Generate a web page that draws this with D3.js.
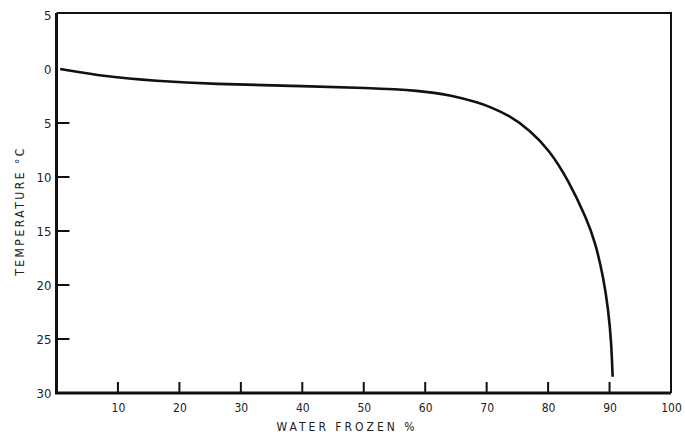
<!DOCTYPE html>
<html><head><meta charset="utf-8">
<script src="https://cdn.jsdelivr.net/npm/d3@7"></script>
<style>body{margin:0;background:#fff}svg{display:block}text{font-family:"DejaVu Sans Condensed","Liberation Sans",sans-serif;fill:#222}</style>
</head><body>
<script>
const waterFrozen = [0.6, 7.9, 16.0, 25.8, 38.0, 51.0, 59.1, 64.0, 68.9, 70.5, 73.7, 77.0, 80.2, 83.3, 86.3, 87.7, 89.0, 89.8, 90.3, 90.5];
const temperature = [0.0, -0.7, -1.1, -1.4, -1.55, -1.76, -2.0, -2.4, -3.15, -3.5, -4.3, -5.65, -7.5, -10.3, -13.9, -16.1, -19.3, -22.3, -25.4, -28.5];
const xTicks = [10, 20, 30, 40, 50, 60, 70, 80, 90, 100];
const yTicks = [5, 0, -5, -10, -15, -20, -25, -30];
const xTitle = "WATER FROZEN %";
const yTitle = "TEMPERATURE °C";

const W = 685, H = 437;
const svg = d3.select("body").append("svg").attr("width", W).attr("height", H);
const x = d3.scaleLinear().domain([0, 100]).range([56.5, 671]);
const y = d3.scaleLinear().domain([5, -30]).range([15, 393]);

// frame
const frameTop = 13;
svg.append("path").attr("d", `M${x(0)},${frameTop} L${x(100)},${frameTop} L${x(100)},${y(-30)}`)
  .attr("fill", "none").attr("stroke", "#111").attr("stroke-width", 2);
svg.append("path").attr("d", `M${x(0)},${frameTop} L${x(0)},${y(-30)} L${x(100)},${y(-30)}`)
  .attr("fill", "none").attr("stroke", "#111").attr("stroke-width", 3);

// x axis
const xAxis = d3.axisBottom(x).tickValues(xTicks).tickSize(0).tickPadding(0).tickFormat(d3.format("d"));
const gx = svg.append("g").attr("transform", `translate(0,${y(-30)})`).call(xAxis);
gx.select(".domain").remove();
gx.selectAll("text").attr("dy", 0).attr("y", 19).style("font-size", "12px").style("fill", "#222");
svg.append("g").selectAll("line").data(xTicks.filter(d => d < 100)).join("line")
  .attr("x1", d => x(d)).attr("x2", d => x(d)).attr("y1", y(-30)).attr("y2", y(-30) - 11)
  .attr("stroke", "#111").attr("stroke-width", 2);

// y axis
const yAxis = d3.axisLeft(y).tickValues(yTicks).tickSize(0).tickPadding(0).tickFormat(d => Math.abs(d));
const gy = svg.append("g").attr("transform", `translate(${x(0)},0)`).call(yAxis);
gy.select(".domain").remove();
gy.selectAll("text").attr("x", -5).style("font-size", "13px").style("fill", "#222");
svg.append("g").selectAll("line").data(yTicks.filter(d => d < 0 && d > -30)).join("line")
  .attr("x1", x(0)).attr("x2", x(0) + 13).attr("y1", d => y(d)).attr("y2", d => y(d))
  .attr("stroke", "#111").attr("stroke-width", 2);

// titles
svg.append("text").attr("x", 347).attr("y", 431).attr("text-anchor", "middle")
  .style("font-size", "12px").style("letter-spacing", "3px").text(xTitle);
svg.append("text").attr("transform", "translate(24,211) rotate(-90)").attr("text-anchor", "middle")
  .style("font-size", "12px").style("letter-spacing", "2.5px").text(yTitle);

// curve
const pts = waterFrozen.map((v, i) => [v, temperature[i]]);
svg.append("path").datum(pts)
  .attr("d", d3.line().x(d => x(d[0])).y(d => y(d[1])).curve(d3.curveBasis))
  .attr("fill", "none").attr("stroke", "#111").attr("stroke-width", 2.6);
</script>
</body></html>
